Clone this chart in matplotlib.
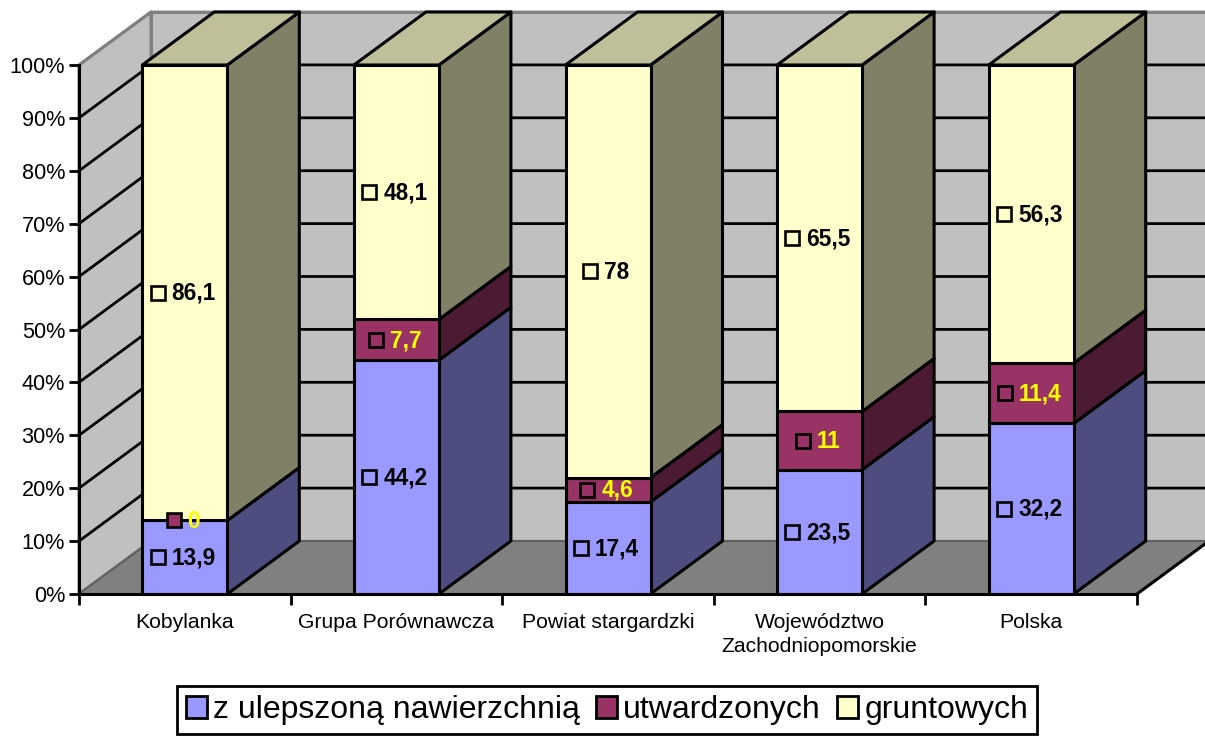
import matplotlib
matplotlib.use("Agg")
import matplotlib.pyplot as plt
from matplotlib.patches import Polygon, Patch
from matplotlib.transforms import offset_copy

plt.rcParams['font.family'] = ['Liberation Sans', 'DejaVu Sans']

categories = ['Kobylanka', 'Grupa Porównawcza', 'Powiat stargardzki',
              'Województwo\nZachodniopomorskie', 'Polska']
series_names = ['z ulepszoną nawierzchnią', 'utwardzonych', 'gruntowych']
ulepszone = [13.9, 44.2, 17.4, 23.5, 32.2]
utwardzone = [0, 7.7, 4.6, 11, 11.4]
gruntowe = [86.1, 48.1, 78, 65.5, 56.3]
value_labels = [['13,9', '44,2', '17,4', '23,5', '32,2'],
                ['0', '7,7', '4,6', '11', '11,4'],
                ['86,1', '48,1', '78', '65,5', '56,3']]
y_ticks = [0, 10, 20, 30, 40, 50, 60, 70, 80, 90, 100]

front_colors = ['#9999FF', '#993366', '#FFFFCC']
side_colors = ['#4D4D80', '#4D1A33', '#808066']
top_color = '#BFBF99'
text_colors = ['black', '#FFFF00', 'black']

# depth of the fake 3d box, in axis units
DX = 72 / 211.6
DY = 53 / 5.29
BAR_W = 85 / 211.6
W, H = 1205, 736


def poly(ax, pts, color, edge='black', lw=2.2, z=2):
    ax.add_patch(Polygon(pts, closed=True, facecolor=color, edgecolor=edge,
                         linewidth=lw, clip_on=False, zorder=z, joinstyle='round'))


def drawBox(ax):
    n = len(categories)
    poly(ax, [(DX, DY), (n + DX, DY), (n + DX, 100 + DY), (DX, 100 + DY)], '#C0C0C0', edge='#808080', z=1)
    poly(ax, [(0, 0), (DX, DY), (DX, 100 + DY), (0, 100)], '#C0C0C0', edge='#808080', z=1)
    poly(ax, [(0, 0), (n, 0), (n + DX, DY), (DX, DY)], '#808080', edge='none', lw=0, z=1)
    ax.plot([n, n + DX], [0, DY], color='black', lw=2.2, clip_on=False, zorder=1.6)
    ax.plot([0, DX], [0, DY], color='#606060', lw=1.5, clip_on=False, zorder=1.6)
    ax.plot([DX, n + DX], [DY, DY], color='#606060', lw=1.5, clip_on=False, zorder=1.6)
    for t in y_ticks[1:-1]:
        ax.plot([0, DX, n + DX], [t, t + DY, t + DY], color='black', lw=2.0, clip_on=False, zorder=1.5)
    ax.plot([0, DX, n + DX], [100, 100 + DY, 100 + DY], color='#808080', lw=2.0, clip_on=False, zorder=1.5)
    ax.plot([DX, DX], [DY, 100 + DY], color='#808080', lw=2.0, clip_on=False, zorder=1.5)


def drawBars(ax):
    for i in range(len(categories)):
        vals = [ulepszone[i], utwardzone[i], gruntowe[i]]
        total = sum(vals)
        left = i + 0.5 - BAR_W / 2
        right = left + BAR_W
        bottom = 0
        for k, v in enumerate(vals):
            top = bottom + v / total * 100
            if v > 0:
                poly(ax, [(right, bottom), (right + DX, bottom + DY), (right + DX, top + DY), (right, top)],
                     side_colors[k], z=3)
                poly(ax, [(left, bottom), (right, bottom), (right, top), (left, top)], front_colors[k], z=4)
            bottom = top
        poly(ax, [(left, 100), (right, 100), (right + DX, 100 + DY), (left + DX, 100 + DY)], top_color, z=3)


def drawLabels(fig, ax):
    renderer = fig.canvas.get_renderer()
    for i in range(len(categories)):
        vals = [ulepszone[i], utwardzone[i], gruntowe[i]]
        total = sum(vals)
        bottom = 0
        for k, v in enumerate(vals):
            mid = bottom + v / total * 50
            bottom += v / total * 100
            t = ax.annotate(value_labels[k][i], (i + 0.5, mid), xytext=(0, -0.5), textcoords='offset points',
                            ha='left', va='center', fontsize=16.3, fontweight='bold',
                            color=text_colors[k], zorder=7, annotation_clip=False)
            w = t.get_window_extent(renderer).width
            # marker + gap + text centred on the bar (pixels -> points)
            start = -2 - (w + 22) / 2
            t.xyann = ((start + 22) * 0.72, -0.5)
            tr = offset_copy(ax.transData, fig=fig, x=(start + 8) * 0.72, y=0, units='points')
            ax.plot([i + 0.5], [mid], marker='s', markersize=10.5, markerfacecolor=front_colors[k],
                    markeredgecolor='black', markeredgewidth=1.9, clip_on=False, zorder=6,
                    linestyle='none', transform=tr)


def createPlot():
    fig = plt.figure(figsize=(W / 100, H / 100), dpi=100)
    ax = fig.add_axes([79 / W, (H - 594) / H, 1058 / W, 529 / H])
    ax.set_xlim(0, len(categories))
    ax.set_ylim(0, 100)
    ax.patch.set_visible(False)
    for s in ['top', 'right']:
        ax.spines[s].set_visible(False)
    for s in ['left', 'bottom']:
        ax.spines[s].set_linewidth(2.2)
        ax.spines[s].set_zorder(5)

    drawBox(ax)
    drawBars(ax)

    ax.set_yticks(y_ticks)
    ax.set_yticklabels([str(t) + '%' for t in y_ticks], fontsize=15.6)
    ax.tick_params(axis='y', length=7, width=2, pad=3)
    ax.set_xticks(range(len(categories) + 1))
    ax.set_xticklabels([])
    ax.tick_params(axis='x', length=8, width=2)
    ax.set_xticks([i + 0.5 for i in range(len(categories))], minor=True)
    ax.set_xticklabels(categories, minor=True, fontsize=15.2, linespacing=1.38)
    ax.tick_params(axis='x', which='minor', length=0, pad=13.5)

    fig.canvas.draw()
    drawLabels(fig, ax)

    handles = [Patch(facecolor=c, edgecolor='black', linewidth=2) for c in front_colors]
    fig.legend(handles, series_names, loc='center', bbox_to_anchor=(607 / W, (H - 710) / H),
               ncol=3, fontsize=23, frameon=True, fancybox=False, edgecolor='black', framealpha=1,
               handlelength=0.66, handleheight=0.66, handletextpad=0.2, columnspacing=0.49,
               borderpad=0.28, borderaxespad=0)
    fig.legends[0].get_frame().set_linewidth(2)

    fig.savefig('out.png', dpi=100)


def main():
    createPlot()


if __name__ == "__main__":
    main()
